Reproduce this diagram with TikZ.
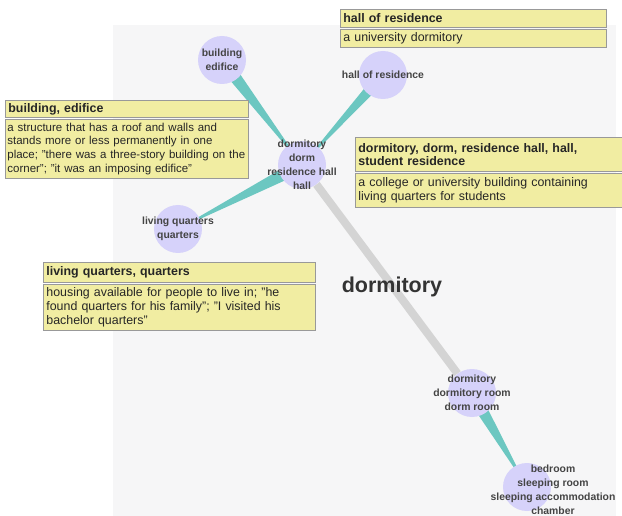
\documentclass[tikz,border=0pt]{standalone}
\usepackage{fontspec}
\setmainfont{Liberation Sans}
\usetikzlibrary{calc}
\pgfdeclarelayer{bg}
\pgfdeclarelayer{edges}
\pgfsetlayers{bg,edges,main}
\definecolor{lav}{HTML}{D6D2FA}
\definecolor{teal}{HTML}{6CC7C1}
\definecolor{yel}{HTML}{F1EDA2}
\definecolor{panel}{HTML}{F6F6F7}
\definecolor{txt}{HTML}{444444}
\definecolor{lnk}{HTML}{D4D4D4}
\tikzset{
  bub/.style={circle,fill=lav,minimum size=48pt,inner sep=0pt},
  btxt/.style={align=center,text=txt,font=\fontsize{10.4}{14}\selectfont\bfseries,inner sep=0pt},
  lbl/.style={draw=black!40,fill=yel,line width=0.8pt,anchor=north west,align=left,
    inner xsep=3pt,inner ysep=1pt,font=\fontsize{12.4}{13.8}\selectfont,text=black!85},
  ttl/.style={lbl,font=\fontsize{12.4}{13.4}\selectfont\bfseries},
  wedge/.style={fill=teal},
}
\begin{document}
\begin{tikzpicture}[x=1pt,y=-1pt]
\useasboundingbox (0,0) rectangle (622,516);
\begin{pgfonlayer}{bg}
\fill[white] (0,0) rectangle (622,516);
\fill[panel] (113,25) rectangle (616,516);
\end{pgfonlayer}
% nodes
\node[bub] (bld) at (222,60) {};
\node[bub] (hall) at (383,75) {};
\node[bub] (dorm) at (302,165) {};
\node[bub] (liv) at (178,229) {};
\node[bub] (room) at (472,393) {};
\node[bub] (bed) at (527,487) {};
\node[btxt] at (bld) {building\\edifice};
\node[btxt] at (hall) {hall of residence};
\node[btxt] at (dorm) {dormitory\\dorm\\residence hall\\hall};
\node[btxt] at (liv) {living quarters\\quarters};
\node[btxt] at (room) {dormitory\\dormitory room\\dorm room};
\node[btxt] (bedt) at (553,490) {bedroom\\sleeping room\\sleeping accommodation\\chamber};
% connectors
\begin{pgfonlayer}{edges}
\draw[lnk,line width=8pt] (dorm) -- (room);
\fill[wedge] ($(bld)!7pt!90:(dorm)$) -- ($(bld)!7pt!-90:(dorm)$) -- (dorm.center) -- cycle;
\fill[wedge] ($(hall)!6pt!90:(dorm)$) -- ($(hall)!6pt!-90:(dorm)$) -- (dorm.center) -- cycle;
\fill[wedge] ($(dorm)!7pt!90:(liv)$) -- ($(dorm)!7pt!-90:(liv)$) -- (liv.center) -- cycle;
\fill[wedge] ($(room)!7pt!90:(bed)$) -- ($(room)!7pt!-90:(bed)$) -- (bed.center) -- cycle;
\end{pgfonlayer}
% big title
\node[font=\fontsize{21.5}{24}\selectfont\bfseries,text=black!80] (big) at (392,287) {dormitory};
% label boxes
\node[ttl,minimum width=266pt,minimum height=18pt,text width=260pt] (hallT) at (340,9) {hall of residence};
\node[lbl,minimum width=266pt,minimum height=18pt,text width=260pt] (hallD) at (340,29) {a university dormitory};
\node[ttl,minimum width=243pt,minimum height=17pt,text width=237pt] (bldT) at (5,100) {building, edifice};
\node[lbl,minimum width=243pt,minimum height=59pt,text width=239pt,inner xsep=2pt,font=\fontsize{11.5}{13.8}\selectfont] (bldD) at (5,119) {a structure that has a roof and walls and\\stands more or less permanently in one\\\mbox{place; "there was a three-story building on the}\\corner"; "it was an imposing edifice"};
\node[ttl,minimum width=267pt,minimum height=34pt,text width=261pt] (dormT) at (355,137) {dormitory, dorm, residence hall, hall,\\student residence};
\node[lbl,minimum width=267pt,minimum height=34pt,text width=261pt] (dormD) at (355,173) {a college or university building containing\\living quarters for students};
\node[ttl,minimum width=272pt,minimum height=20pt,text width=266pt] (livT) at (43,262) {living quarters, quarters};
\node[lbl,minimum width=272pt,minimum height=46pt,text width=266pt] (livD) at (43,284) {housing available for people to live in; "he\\found quarters for his family"; "I visited his\\bachelor quarters"};
\end{tikzpicture}
\end{document}
